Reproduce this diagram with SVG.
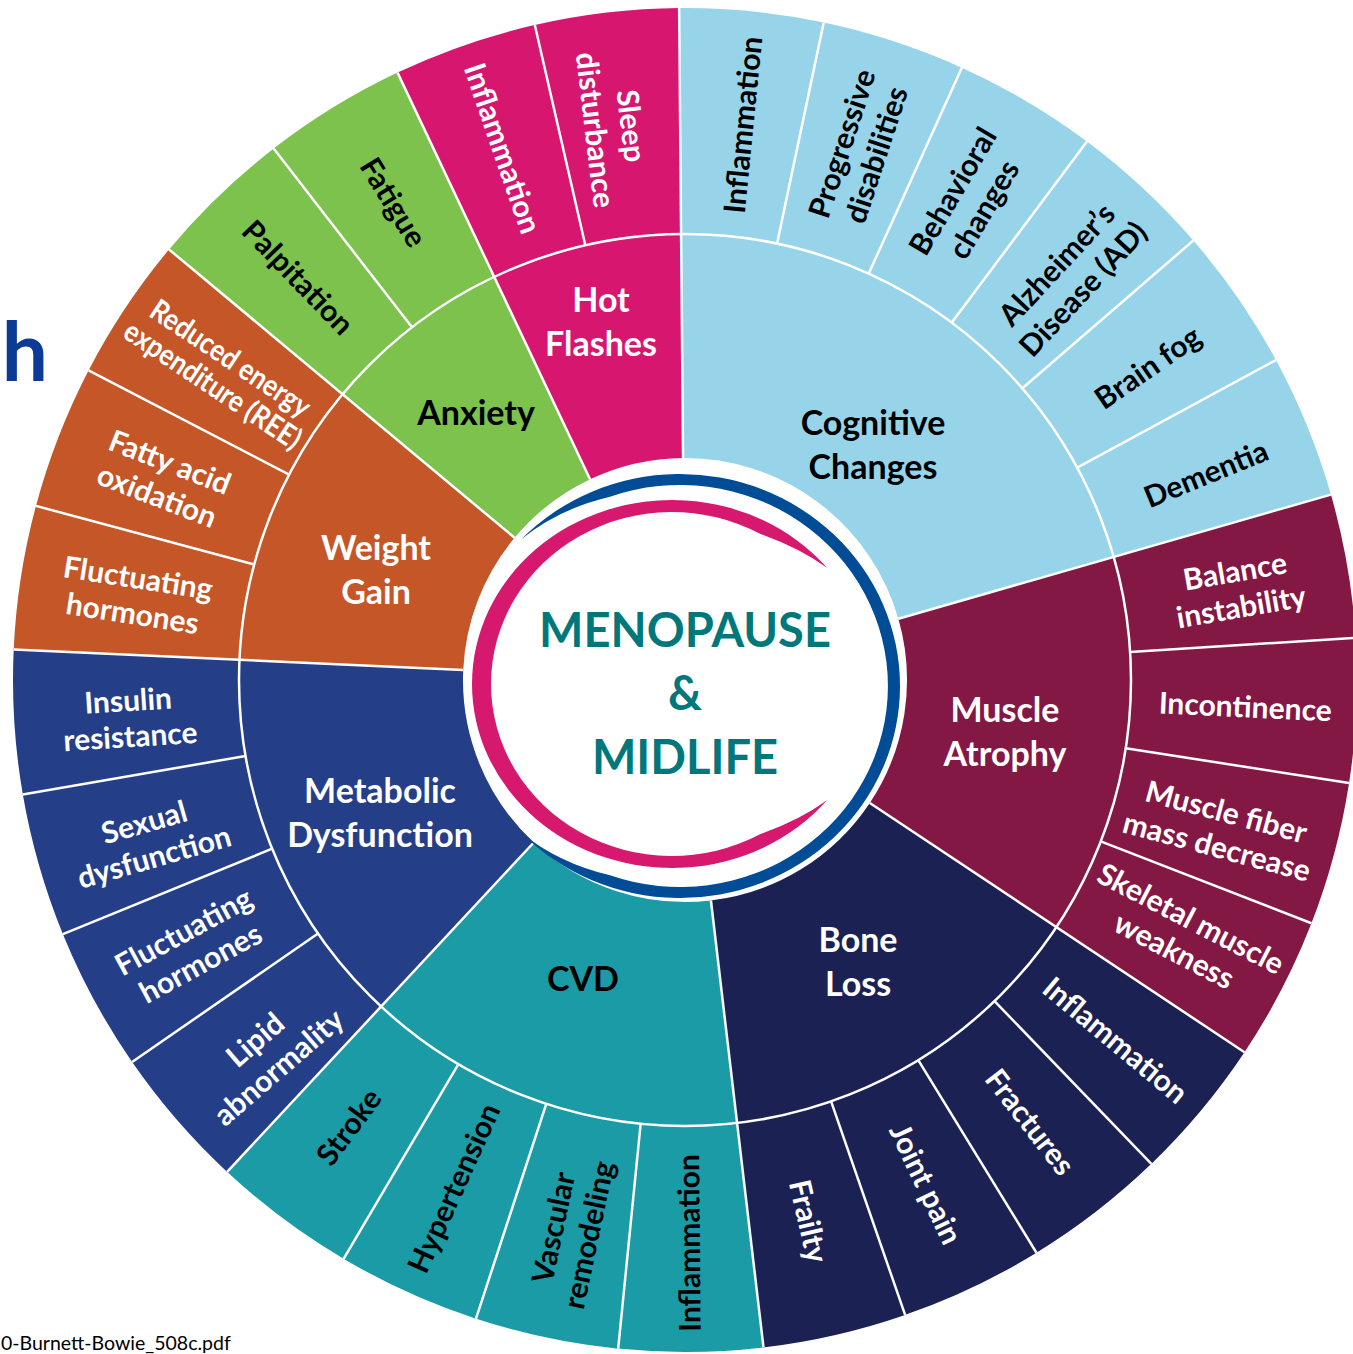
<svg xmlns="http://www.w3.org/2000/svg" width="1353" height="1354" viewBox="0 0 1353 1354">
<style>
.o{fill:none;stroke-width:226;stroke-dasharray:121.6 4000}
.i{fill:none;stroke-width:224}
.cog{stroke:#97D4EA}.mus{stroke:#841844}.bon{stroke:#1B2253}.cvd{stroke:#1A9BA6}
.met{stroke:#243E88}.wei{stroke:#C45628}.anx{stroke:#7CC24C}.hot{stroke:#D7176F}
.sep line{stroke:#fff;stroke-width:2.5}
.lab,.lab tspan{font-family:Lato,"Open Sans","Liberation Sans",sans-serif;font-weight:700;font-size:30px;text-anchor:middle;dominant-baseline:central}
.cat,.cat tspan{font-size:34px}
.w{fill:#fff}.k{fill:#000}
.ctr{font-family:Lato,"Open Sans","Liberation Sans",sans-serif;font-weight:700;font-size:47px;text-anchor:middle;fill:#00777B}
</style>
<rect width="1353" height="1354" fill="#fff"/>
<text x="48" y="381" text-anchor="end" font-family="Lato, 'Liberation Sans', sans-serif" font-weight="700" font-size="82" fill="#0B3B94">h</text>
<text x="1" y="1350" font-family="Lato, 'Liberation Sans', sans-serif" font-size="19.5" fill="#000">0-Burnett-Bowie_508c.pdf</text>

<g id="cognitive-changes">
<circle class="i cog" cx="685" cy="680" r="334" stroke-dasharray="434.6 4000" transform="rotate(-90.5 685 680)"/>
<text class="lab cat k" transform="translate(873,443)"><tspan x="0" y="-22">Cognitive</tspan><tspan x="0" y="22">Changes</tspan></text>
</g>
<g id="muscle-atrophy">
<circle class="i mus" cx="685" cy="680" r="334" stroke-dasharray="289.9 4000" transform="rotate(-16.017 685 680)"/>
<text class="lab cat w" transform="translate(1005,730)"><tspan x="0" y="-22">Muscle</tspan><tspan x="0" y="22">Atrophy</tspan></text>
</g>
<g id="bone-loss">
<circle class="i bon" cx="685" cy="680" r="334" stroke-dasharray="289.9 4000" transform="rotate(33.638 685 680)"/>
<text class="lab cat w" transform="translate(858,960)"><tspan x="0" y="-22">Bone</tspan><tspan x="0" y="22">Loss</tspan></text>
</g>
<g id="cvd">
<circle class="i cvd" cx="685" cy="680" r="334" stroke-dasharray="289.9 4000" transform="rotate(83.293 685 680)"/>
<text class="lab cat k" transform="translate(583,977)"><tspan x="0" y="0">CVD</tspan></text>
</g>
<g id="metabolic-dysfunction">
<circle class="i met" cx="685" cy="680" r="334" stroke-dasharray="289.9 4000" transform="rotate(132.948 685 680)"/>
<text class="lab cat w" transform="translate(380,811)"><tspan x="0" y="-22">Metabolic</tspan><tspan x="0" y="22">Dysfunction</tspan></text>
</g>
<g id="weight-gain">
<circle class="i wei" cx="685" cy="680" r="334" stroke-dasharray="217.5 4000" transform="rotate(182.603 685 680)"/>
<text class="lab cat w" transform="translate(376,568)"><tspan x="0" y="-22">Weight</tspan><tspan x="0" y="22">Gain</tspan></text>
</g>
<g id="anxiety">
<circle class="i anx" cx="685" cy="680" r="334" stroke-dasharray="145.2 4000" transform="rotate(219.845 685 680)"/>
<text class="lab cat k" transform="translate(476,411)"><tspan x="0" y="0">Anxiety</tspan></text>
</g>
<g id="hot-flashes">
<circle class="i hot" cx="685" cy="680" r="334" stroke-dasharray="145.2 4000" transform="rotate(244.672 685 680)"/>
<text class="lab cat w" transform="translate(601,320)"><tspan x="0" y="-22">Hot</tspan><tspan x="0" y="22">Flashes</tspan></text>
</g>

<g id="cog-inflammation"><circle class="o cog" cx="685" cy="680" r="559" transform="rotate(-90.5 685 680)"/>
<text class="lab k" transform="translate(741.6,124.8) rotate(-84.29)"><tspan x="0" y="0">Inflammation</tspan></text></g>
<g id="cog-progressive"><circle class="o cog" cx="685" cy="680" r="559" transform="rotate(-78.086 685 680)"/>
<text class="lab k" transform="translate(857.8,148.7) rotate(-71.88)"><tspan x="0" y="-18">Progressive</tspan><tspan x="0" y="18">disabilities</tspan></text></g>
<g id="cog-behavioral"><circle class="o cog" cx="685" cy="680" r="559" transform="rotate(-65.672 685 680)"/>
<text class="lab k" transform="translate(967,199.5) rotate(-59.47)"><tspan x="0" y="-18">Behavioral</tspan><tspan x="0" y="18">changes</tspan></text></g>
<g id="cog-alzheimers"><circle class="o cog" cx="685" cy="680" r="559" transform="rotate(-53.259 685 680)"/>
<text class="lab k" transform="translate(1068.8,275.8) rotate(-47.05)"><tspan x="0" y="-18">Alzheimer’s</tspan><tspan x="0" y="18">Disease (AD)</tspan></text></g>
<g id="cog-brainfog"><circle class="o cog" cx="685" cy="680" r="559" transform="rotate(-40.845 685 680)"/>
<text class="lab k" transform="translate(1146.9,366.3) rotate(-34.64)"><tspan x="0" y="0">Brain fog</tspan></text></g>
<g id="cog-dementia"><circle class="o cog" cx="685" cy="680" r="559" transform="rotate(-28.431 685 680)"/>
<text class="lab k" transform="translate(1205.5,472.6) rotate(-22.22)"><tspan x="0" y="0">Dementia</tspan></text></g>

<g id="mus-balance"><circle class="o mus" cx="685" cy="680" r="559" transform="rotate(-16.017 685 680)"/>
<text class="lab w" transform="translate(1237.8,587.7) rotate(-9.81)"><tspan x="0" y="-18">Balance</tspan><tspan x="0" y="18">instability</tspan></text></g>
<g id="mus-incontinence"><circle class="o mus" cx="685" cy="680" r="559" transform="rotate(-3.603 685 680)"/>
<text class="lab w" transform="translate(1245.4,705.4) rotate(2.6)"><tspan x="0" y="0">Incontinence</tspan></text></g>
<g id="mus-fiber"><circle class="o mus" cx="685" cy="680" r="559" transform="rotate(8.810 685 680)"/>
<text class="lab w" transform="translate(1221.9,827.9) rotate(15.02)"><tspan x="0" y="-18">Muscle fiber</tspan><tspan x="0" y="18">mass decrease</tspan></text></g>
<g id="mus-skeletal"><circle class="o mus" cx="685" cy="680" r="559" transform="rotate(21.224 685 680)"/>
<text class="lab w" transform="translate(1183.2,933.5) rotate(27.43)"><tspan x="0" y="-18">Skeletal muscle</tspan><tspan x="0" y="18">weakness</tspan></text></g>

<g id="bon-inflammation"><circle class="o bon" cx="685" cy="680" r="559" transform="rotate(33.638 685 680)"/>
<text class="lab w" transform="translate(1116.3,1039.1) rotate(39.84)"><tspan x="0" y="0">Inflammation</tspan></text></g>
<g id="bon-fractures"><circle class="o bon" cx="685" cy="680" r="559" transform="rotate(46.052 685 680)"/>
<text class="lab w" transform="translate(1031.2,1121.1) rotate(52.26)"><tspan x="0" y="0">Fractures</tspan></text></g>
<g id="bon-jointpain"><circle class="o bon" cx="685" cy="680" r="559" transform="rotate(58.466 685 680)"/>
<text class="lab w" transform="translate(927.1,1183.3) rotate(64.67)"><tspan x="0" y="0">Joint pain</tspan></text></g>
<g id="bon-frailty"><circle class="o bon" cx="685" cy="680" r="559" transform="rotate(70.879 685 680)"/>
<text class="lab w" transform="translate(809.9,1220.9) rotate(77.09)"><tspan x="0" y="0">Frailty</tspan></text></g>

<g id="cvd-inflammation"><circle class="o cvd" cx="685" cy="680" r="559" transform="rotate(83.293 685 680)"/>
<text class="lab k" transform="translate(687.9,1243) rotate(-90.5)"><tspan x="0" y="0">Inflammation</tspan></text></g>
<g id="cvd-vascular"><circle class="o cvd" cx="685" cy="680" r="559" transform="rotate(95.707 685 680)"/>
<text class="lab k" transform="translate(569.6,1231) rotate(-78.09)"><tspan x="0" y="-18">Vascular</tspan><tspan x="0" y="18">remodeling</tspan></text></g>
<g id="cvd-hypertension"><circle class="o cvd" cx="685" cy="680" r="559" transform="rotate(108.121 685 680)"/>
<text class="lab k" transform="translate(452.6,1187.4) rotate(-65.67)"><tspan x="0" y="0">Hypertension</tspan></text></g>
<g id="cvd-stroke"><circle class="o cvd" cx="685" cy="680" r="559" transform="rotate(120.534 685 680)"/>
<text class="lab k" transform="translate(347.7,1126) rotate(-53.26)"><tspan x="0" y="0">Stroke</tspan></text></g>

<g id="met-lipid"><circle class="o met" cx="685" cy="680" r="559" transform="rotate(132.948 685 680)"/>
<text class="lab w" transform="translate(266,1052.4) rotate(-40.84)"><tspan x="0" y="-18">Lipid</tspan><tspan x="0" y="18">abnormality</tspan></text></g>
<g id="met-hormones"><circle class="o met" cx="685" cy="680" r="559" transform="rotate(145.362 685 680)"/>
<text class="lab w" transform="translate(191.4,946.1) rotate(-28.43)"><tspan x="0" y="-18">Fluctuating</tspan><tspan x="0" y="18">hormones</tspan></text></g>
<g id="met-sexual"><circle class="o met" cx="685" cy="680" r="559" transform="rotate(157.776 685 680)"/>
<text class="lab w" transform="translate(148.7,838.3) rotate(-16.02)"><tspan x="0" y="-18">Sexual</tspan><tspan x="0" y="18">dysfunction</tspan></text></g>
<g id="met-insulin"><circle class="o met" cx="685" cy="680" r="559" transform="rotate(170.190 685 680)"/>
<text class="lab w" transform="translate(129.1,717.1) rotate(-3.6)"><tspan x="0" y="-18">Insulin</tspan><tspan x="0" y="18">resistance</tspan></text></g>

<g id="wei-hormones"><circle class="o wei" cx="685" cy="680" r="559" transform="rotate(182.603 685 680)"/>
<text class="lab w" transform="translate(135.6,594.4) rotate(8.81)"><tspan x="0" y="-18">Fluctuating</tspan><tspan x="0" y="18">hormones</tspan></text></g>
<g id="wei-fatty"><circle class="o wei" cx="685" cy="680" r="559" transform="rotate(195.017 685 680)"/>
<text class="lab w" transform="translate(163.9,477.7) rotate(21.22)"><tspan x="0" y="-18">Fatty acid</tspan><tspan x="0" y="18">oxidation</tspan></text></g>
<g id="wei-ree"><circle class="o wei" cx="685" cy="680" r="559" transform="rotate(207.431 685 680)"/>
<text class="lab w" transform="translate(222.6,370.3) rotate(33.64)"><tspan x="0" y="-16" textLength="186" lengthAdjust="spacingAndGlyphs">Reduced energy</tspan><tspan x="0" y="16" textLength="206" lengthAdjust="spacingAndGlyphs">expenditure (REE)</tspan></text></g>

<g id="anx-palpitation"><circle class="o anx" cx="685" cy="680" r="559" transform="rotate(219.845 685 680)"/>
<text class="lab k" transform="translate(299.1,276.5) rotate(46.05)"><tspan x="0" y="0">Palpitation</tspan></text></g>
<g id="anx-fatigue"><circle class="o anx" cx="685" cy="680" r="559" transform="rotate(232.259 685 680)"/>
<text class="lab k" transform="translate(394.6,201.6) rotate(58.47)"><tspan x="0" y="0">Fatigue</tspan></text></g>

<g id="hot-inflammation"><circle class="o hot" cx="685" cy="680" r="559" transform="rotate(244.672 685 680)"/>
<text class="lab w" transform="translate(504,147.8) rotate(70.88)"><tspan x="0" y="0">Inflammation</tspan></text></g>
<g id="hot-sleep"><circle class="o hot" cx="685" cy="680" r="559" transform="rotate(257.086 685 680)"/>
<text class="lab w" transform="translate(614.7,127.8) rotate(83.29)"><tspan x="0" y="-18">Sleep</tspan><tspan x="0" y="18">disturbance</tspan></text></g>

<g id="connectors" class="sep" transform="translate(685,680)">
<circle r="446" fill="none" stroke="#fff" stroke-width="2.5"/>
<line x1="0" y1="-222" x2="0" y2="-672" transform="rotate(-0.5)"/>
<line x1="0" y1="-446" x2="0" y2="-672" transform="rotate(11.914)"/>
<line x1="0" y1="-446" x2="0" y2="-672" transform="rotate(24.328)"/>
<line x1="0" y1="-446" x2="0" y2="-672" transform="rotate(36.741)"/>
<line x1="0" y1="-446" x2="0" y2="-672" transform="rotate(49.155)"/>
<line x1="0" y1="-446" x2="0" y2="-672" transform="rotate(61.569)"/>
<line x1="0" y1="-222" x2="0" y2="-672" transform="rotate(73.983)"/>
<line x1="0" y1="-446" x2="0" y2="-672" transform="rotate(86.397)"/>
<line x1="0" y1="-446" x2="0" y2="-672" transform="rotate(98.810)"/>
<line x1="0" y1="-446" x2="0" y2="-672" transform="rotate(111.224)"/>
<line x1="0" y1="-222" x2="0" y2="-672" transform="rotate(123.638)"/>
<line x1="0" y1="-446" x2="0" y2="-672" transform="rotate(136.052)"/>
<line x1="0" y1="-446" x2="0" y2="-672" transform="rotate(148.466)"/>
<line x1="0" y1="-446" x2="0" y2="-672" transform="rotate(160.879)"/>
<line x1="0" y1="-222" x2="0" y2="-672" transform="rotate(173.293)"/>
<line x1="0" y1="-446" x2="0" y2="-672" transform="rotate(185.707)"/>
<line x1="0" y1="-446" x2="0" y2="-672" transform="rotate(198.121)"/>
<line x1="0" y1="-446" x2="0" y2="-672" transform="rotate(210.534)"/>
<line x1="0" y1="-222" x2="0" y2="-672" transform="rotate(222.948)"/>
<line x1="0" y1="-446" x2="0" y2="-672" transform="rotate(235.362)"/>
<line x1="0" y1="-446" x2="0" y2="-672" transform="rotate(247.776)"/>
<line x1="0" y1="-446" x2="0" y2="-672" transform="rotate(260.190)"/>
<line x1="0" y1="-222" x2="0" y2="-672" transform="rotate(272.603)"/>
<line x1="0" y1="-446" x2="0" y2="-672" transform="rotate(285.017)"/>
<line x1="0" y1="-446" x2="0" y2="-672" transform="rotate(297.431)"/>
<line x1="0" y1="-222" x2="0" y2="-672" transform="rotate(309.845)"/>
<line x1="0" y1="-446" x2="0" y2="-672" transform="rotate(322.259)"/>
<line x1="0" y1="-222" x2="0" y2="-672" transform="rotate(334.672)"/>
<line x1="0" y1="-446" x2="0" y2="-672" transform="rotate(347.086)"/>
</g>

<g id="center">
<path d="M521,539.5 A220,212 0 1 1 521,832.5 Q558,863 610,875.3 A208,201 0 1 0 610,496.7 Q558,509 521,539.5 Z" fill="#004C97"/>
<path d="M827,567.7 A200,184 0 1 0 827,800.3 Q800,820 760,834.3 A181,172 0 1 1 760,533.7 Q800,548 827,567.7 Z" fill="#D6186F"/>
<text class="ctr" x="685" y="647">MENOPAUSE</text>
<text class="ctr" x="685" y="710">&amp;</text>
<text class="ctr" x="685" y="774">MIDLIFE</text>
</g>
</svg>
